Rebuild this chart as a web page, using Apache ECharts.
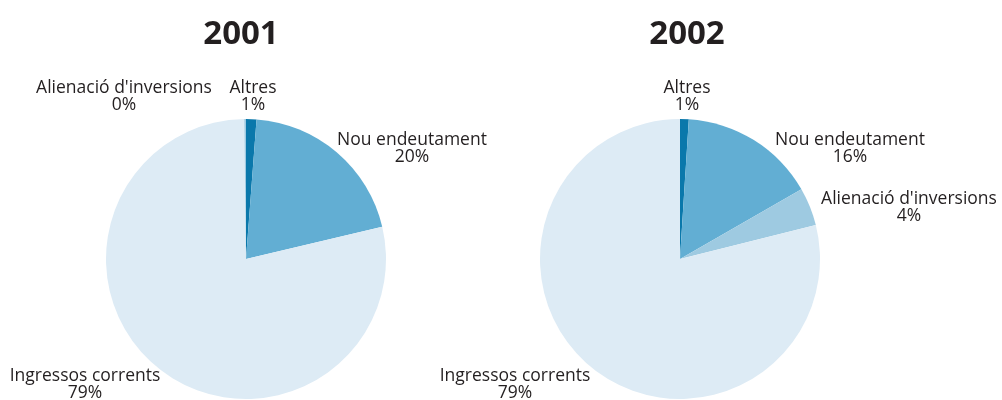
<!DOCTYPE html>
<html>
<head>
<meta charset="utf-8">
<script src="https://cdn.jsdelivr.net/npm/echarts@6/dist/echarts.min.js"></script>
<style>
  html, body { margin: 0; padding: 0; background: #fff; }
  #chart { width: 1002px; height: 400px; }
</style>
</head>
<body>
<div id="chart"></div>
<script>
// dades llegides del gràfic (percentatges aproximats)
const years = ['2001', '2002'];
const names2001 = ['Altres', 'Nou endeutament', 'Ingressos corrents', "Alienació d'inversions"];
const values2001 = [1.2, 20.1, 78.5, 0.2];
const names2002 = ['Altres', 'Nou endeutament', "Alienació d'inversions", 'Ingressos corrents'];
const values2002 = [1.0, 15.7, 4.4, 78.9];

const colors = {
  'Altres': '#0a78ab',
  'Nou endeutament': '#62aed3',
  "Alienació d'inversions": '#9ecae1',
  'Ingressos corrents': '#ddebf5'
};

// posició de les etiquetes (centre del bloc de text)
const labelPos2001 = {
  'Altres': [253, 97],
  'Nou endeutament': [412, 149],
  'Ingressos corrents': [85, 385],
  "Alienació d'inversions": [124, 97]
};
const labelPos2002 = {
  'Altres': [687, 97],
  'Nou endeutament': [850, 149],
  "Alienació d'inversions": [909, 208],
  'Ingressos corrents': [515, 385]
};

const chart = echarts.init(document.getElementById('chart'));

function pieSeries(names, values, center, labelPos) {
  return {
    type: 'pie',
    center: center,
    radius: 140,
    startAngle: 90,
    clockwise: true,
    percentPrecision: 0,
    animation: false,
    silent: true,
    data: names.map((n, i) => ({
      name: n,
      value: values[i],
      itemStyle: { color: colors[n] }
    })),
    itemStyle: { borderWidth: 0 },
    label: {
      show: true,
      position: 'outside',
      formatter: '{b}\n{d}%',
      color: '#231f20',
      fontFamily: 'Open Sans',
      fontSize: 17.5,
      lineHeight: 17,
      align: 'center',
      overflow: 'none'
    },
    labelLine: { show: false },
    labelLayout: function (params) {
      const p = labelPos[names[params.dataIndex]];
      return { x: p[0], y: p[1], align: 'center', verticalAlign: 'middle' };
    }
  };
}

const titleStyle = { fontFamily: 'Open Sans', fontSize: 33, fontWeight: 'bold', color: '#231f20' };

chart.setOption({
  backgroundColor: '#fff',
  title: [
    { text: years[0], left: 236, top: 13, textAlign: 'center', textStyle: titleStyle },
    { text: years[1], left: 682, top: 13, textAlign: 'center', textStyle: titleStyle }
  ],
  series: [
    pieSeries(names2001, values2001, [246, 259], labelPos2001),
    pieSeries(names2002, values2002, [680, 259], labelPos2002)
  ]
});
</script>
</body>
</html>
